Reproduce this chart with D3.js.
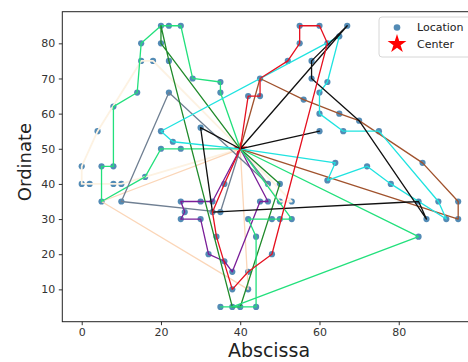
<!DOCTYPE html>
<html>
<head>
<meta charset="utf-8">
<script src="https://cdn.jsdelivr.net/npm/d3@7"></script>
<style>
  body { margin: 0; background: white; }
  text { font-family: "DejaVu Sans", sans-serif; }
</style>
</head>
<body>
<div id="chart"></div>
<script>
// depot and routes (x, y in data units)
const depot = [40, 50];

const routeSpring = [[25,50],[20,50],[16,42],[5,35],[5,45],[8,45],[8,62],[14,66],[15,80],[20,85],[22,85],[25,85],[28,70],[35,69],[35,66]];
const routeCyan = [[23,52],[20,55],[65,82],[62,69],[60,66],[60,60],[66,55],[75,55],[90,35],[92,30],[78,40],[72,45],[62,41],[64,46]];
const routeBrown = [[45,70],[56,64],[65,60],[70,58],[86,46],[95,35],[95,30]];
const routeBlack = [[67,85],[58,75],[58,70],[70,58],[87,30],[85,35],[33,32],[30,56]];
const routeBlack2 = [[60,55]];
const routeRed = [[36,40],[33,32],[34,25],[38,10],[42,15],[48,20],[62,80],[60,85],[55,85],[55,80],[52,75],[45,70],[45,65],[42,65]];
const routeDarkGreen = [[20,80],[20,85],[22,75],[38,5],[40,5],[50,40]];
const routeSpring2 = [[53,30],[50,30],[48,30],[42,30],[44,25],[44,5],[35,5],[38,5],[85,25]];
const routeSlate = [[35,32],[10,35],[22,66],[47,40]];
const routePurple = [[33,35],[30,35],[25,35],[26,32],[25,30],[30,30],[32,20],[36,18],[38,15],[45,35],[47,35]];
const routePeach = [[42,10],[5,35]];
const routeIvory = [[10,40],[8,40],[2,40],[0,40],[0,45],[4,55],[15,75],[18,75]];
const routeIvory2 = [[50,35],[53,35]];

const routes = [routeIvory, routeIvory2, routePeach, routeSpring, routeSlate, routePurple,
  routeDarkGreen, routeSpring2, routeBrown, routeCyan, routeBlack2, routeBlack, routeRed];
const routeColors = ["#fdf2e2", "#fdf2e2", "#fbd6b8", "#22e07c", "#6f7f92", "#7a1e98",
  "#1f8a2a", "#22e07c", "#a0522d", "#1fe3e0", "#111111", "#111111", "#e5101f"];

const xTicks = [0, 20, 40, 60, 80];
const yTicks = [10, 20, 30, 40, 50, 60, 70, 80];

const width = 468;
const height = 362;

const svg = d3.select("#chart")
  .append("svg")
  .attr("width", width)
  .attr("height", height)
  .style("background-color", "white");

const x = d3.scaleLinear([-4.9, 100], [62.3, 478]);
const y = d3.scaleLinear([0.8, 89], [321.7, 11.7]);

// all customer locations = unique route stops
const seen = new Set();
const locations = [];
routes.forEach(r => r.forEach(p => {
  const k = p.join(",");
  if (!seen.has(k)) { seen.add(k); locations.push(p); }
}));

const g = svg.append("g");

g.selectAll(".loc")
  .data(locations)
  .enter().append("circle")
  .attr("class", "loc")
  .attr("cx", d => x(d[0]))
  .attr("cy", d => y(d[1]))
  .attr("r", 3.1)
  .attr("fill", "#3577a8")
  .attr("opacity", 0.85);

g.append("path")
  .attr("d", d3.symbol(d3.symbolStar, 60)())
  .attr("transform", `translate(${x(depot[0])},${y(depot[1])})`)
  .attr("fill", "red");

const line = d3.line().x(d => x(d[0])).y(d => y(d[1]));

g.selectAll(".route")
  .data(routes)
  .enter().append("path")
  .attr("class", "route")
  .attr("d", r => line([depot, ...r, depot]))
  .attr("fill", "none")
  .attr("stroke", (r, i) => routeColors[i])
  .attr("stroke-width", (r, i) => i < 2 ? 1.8 : 1.3)
  .attr("stroke-linejoin", "round");

// axes
const xAxis = d3.axisBottom(x).tickValues(xTicks).tickSize(3.5).tickPadding(3.5);
const yAxis = d3.axisLeft(y).tickValues(yTicks).tickSize(3.5).tickPadding(3.5);

const gx = svg.append("g")
  .attr("transform", `translate(0, ${y.range()[0]})`)
  .call(xAxis);
const gy = svg.append("g")
  .attr("transform", `translate(${x.range()[0]}, 0)`)
  .call(yAxis);

[gx, gy].forEach(a => {
  a.select(".domain").remove();
  a.selectAll("text").attr("font-size", 11).attr("fill", "#333");
  a.selectAll("line").attr("stroke", "#333");
});

// frame
svg.append("rect")
  .attr("x", x.range()[0])
  .attr("y", y.range()[1])
  .attr("width", x.range()[1] - x.range()[0])
  .attr("height", y.range()[0] - y.range()[1])
  .attr("fill", "none")
  .attr("stroke", "#222")
  .attr("stroke-width", 1);

svg.append("text")
  .attr("x", 269)
  .attr("y", 357)
  .attr("text-anchor", "middle")
  .attr("font-size", 19)
  .attr("fill", "#222")
  .text("Abscissa");

svg.append("text")
  .attr("transform", "translate(31,162) rotate(-90)")
  .attr("text-anchor", "middle")
  .attr("font-size", 18)
  .attr("fill", "#222")
  .text("Ordinate");

// legend
const lg = svg.append("g");
lg.append("rect")
  .attr("x", 379).attr("y", 17)
  .attr("width", 97).attr("height", 40)
  .attr("rx", 3)
  .attr("fill", "white").attr("fill-opacity", 0.85)
  .attr("stroke", "#d6d6d6");
lg.append("circle")
  .attr("cx", 397).attr("cy", 27.5).attr("r", 3.3)
  .attr("fill", "#3577a8").attr("opacity", 0.85);
lg.append("path")
  .attr("d", d3.symbol(d3.symbolStar, 110)())
  .attr("transform", "translate(397,44)")
  .attr("fill", "red");
lg.append("text").attr("x", 417).attr("y", 31).attr("font-size", 11).attr("fill", "#222").text("Location");
lg.append("text").attr("x", 417).attr("y", 48).attr("font-size", 11).attr("fill", "#222").text("Center");
</script>
</body>
</html>
